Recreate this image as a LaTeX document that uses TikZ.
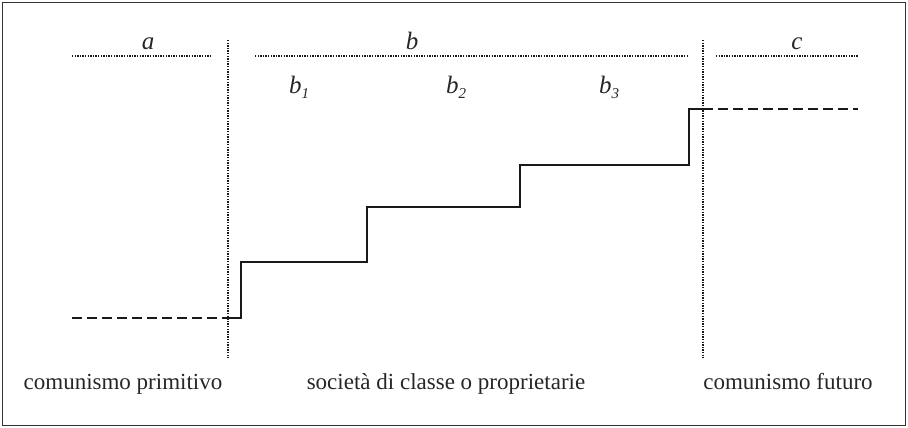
\documentclass[tikz,border=0pt]{standalone}
\usepackage{fontspec}
\setmainfont{Liberation Serif}
\begin{document}
\begin{tikzpicture}[x=1pt,y=-1pt,
  dotline/.style={line width=1.7pt,dash pattern=on 1.4pt off 1.2pt,black!90},
  dashline/.style={line width=2.3pt,dash pattern=on 10pt off 5pt,black!90},
  stepline/.style={line width=2.3pt,black!90,line join=miter},
  lbl/.style={font=\fontsize{23}{25}\selectfont,text=black!85,inner sep=0pt,anchor=base},
  ilbl/.style={font=\fontsize{25}{27}\selectfont\itshape,text=black!85,inner sep=0pt,anchor=base}]
\useasboundingbox (0,0) rectangle (908,428);
\draw[line width=1.2pt,black!80] (2.5,2.5) rectangle (905.5,425.5);
% top dotted brackets
\coordinate (a1) at (72,56); \coordinate (a2) at (210,56);
\coordinate (bb1) at (255,56); \coordinate (bb2) at (688,56);
\coordinate (c1) at (716,56); \coordinate (c2) at (858,56);
\draw[dotline] (a1) -- (a2);
\draw[dotline] (bb1) -- (bb2);
\draw[dotline] (c1) -- (c2);
\node[ilbl] (la) at (148,50) {a};
\node[ilbl] (lb) at (412,50) {b};
\node[ilbl] (lc) at (797,50) {c};
\node[ilbl] (lb1) at (299,94) {b\raisebox{-0.35ex}{\fontsize{15}{16}\selectfont 1}};
\node[ilbl] (lb2) at (456,94) {b\raisebox{-0.35ex}{\fontsize{15}{16}\selectfont 2}};
\node[ilbl] (lb3) at (609,94) {b\raisebox{-0.35ex}{\fontsize{15}{16}\selectfont 3}};
% vertical dotted separators
\coordinate (v1t) at (228,40); \coordinate (v1b) at (228,358);
\coordinate (v2t) at (703,40); \coordinate (v2b) at (703,358);
\draw[dotline] (v1t) -- (v1b);
\draw[dotline] (v2t) -- (v2b);
% dashed ends
\coordinate (d1s) at (72,318); \coordinate (p0) at (228,318);
\coordinate (p9) at (703,109); \coordinate (d2e) at (858,109);
\draw[dashline] (d1s) -- (p0);
\draw[dashline] (p9) -- (d2e);
% staircase
\coordinate (p1) at (241,318); \coordinate (p2) at (241,262);
\coordinate (p3) at (367,262); \coordinate (p4) at (367,207);
\coordinate (p5) at (520,207); \coordinate (p6) at (520,165);
\coordinate (p7) at (689,165); \coordinate (p8) at (689,109);
\draw[stepline] (p0) -- (p1) -- (p2) -- (p3) -- (p4) -- (p5) -- (p6) -- (p7) -- (p8) -- (p9);
% bottom labels
\node[lbl] (t1) at (123,389) {comunismo primitivo};
\node[lbl] (t2) at (446,389) {società di classe o proprietarie};
\node[lbl] (t3) at (788,389) {comunismo futuro};
\end{tikzpicture}
\end{document}
